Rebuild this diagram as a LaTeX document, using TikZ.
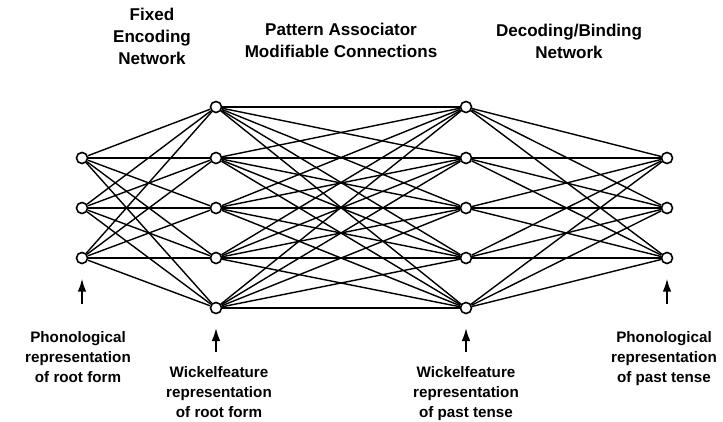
\documentclass[tikz,border=0pt]{standalone}
\usepackage{fontspec}
\setmainfont{Liberation Sans}
\usetikzlibrary{arrows.meta}
\tikzset{
  unit/.style={circle,draw,fill=white,line width=1.2pt,inner sep=0pt,minimum size=8.3pt},
  link/.style={line width=1.05pt},
  feed/.style={line width=1.7pt,-{Latex[length=10pt,width=6.5pt]}},
  toplab/.style={anchor=north,inner sep=0pt,align=center,font=\bfseries\fontsize{12.8}{16.5}\selectfont},
  botlab/.style={anchor=north,inner sep=0pt,align=center,font=\bfseries\fontsize{11.4}{15}\selectfont}
}
\begin{document}
\begin{tikzpicture}[x=0.75pt,y=-0.75pt]
  \useasboundingbox (0,0) rectangle (723,421);
  % the four layers of units
  \foreach \i/\y in {1/158,2/208,3/258}{
    \node[unit] (in\i) at (82,\y) {};
    \node[unit] (out\i) at (667,\y) {};}
  \foreach \i/\y in {1/107,2/158,3/208,4/258,5/308}{
    \node[unit] (wa\i) at (216,\y) {};
    \node[unit] (wb\i) at (466,\y) {};}
  % connections
  \foreach \i in {1,2,3}{
    \foreach \j in {1,...,5}{
      \draw[link] (in\i) -- (wa\j);
      \draw[link] (wb\j) -- (out\i);}}
  \foreach \i in {1,...,5}{
    \foreach \j in {1,...,5}{
      \draw[link] (wa\i) -- (wb\j);}}
  % headings
  \node[toplab] (enc) at (152,8) {Fixed\\Encoding\\Network};
  \node[toplab] (assoc) at (341,23) {Pattern Associator\\Modifiable Connections};
  \node[toplab] (dec) at (569,24) {Decoding/Binding\\Network};
  % captions below
  \node[botlab] (phroot) at (78,331) {Phonological\\representation\\of root form};
  \node[botlab] (wfroot) at (219,366) {Wickelfeature\\representation\\of root form};
  \node[botlab] (wfpast) at (466,366) {Wickelfeature\\representation\\of past tense};
  \node[botlab] (phpast) at (664,331) {Phonological\\representation\\of past tense};
  % arrows
  \coordinate (p1) at (82,304);
  \coordinate (p2) at (216,352);
  \coordinate (p3) at (466,352);
  \coordinate (p4) at (667,304);
  \draw[feed,shorten >=10.5pt] (p1) -- (in3);
  \draw[feed,shorten >=10pt] (p2) -- (wa5);
  \draw[feed,shorten >=10pt] (p3) -- (wb5);
  \draw[feed,shorten >=10.5pt] (p4) -- (out3);
\end{tikzpicture}
\end{document}
